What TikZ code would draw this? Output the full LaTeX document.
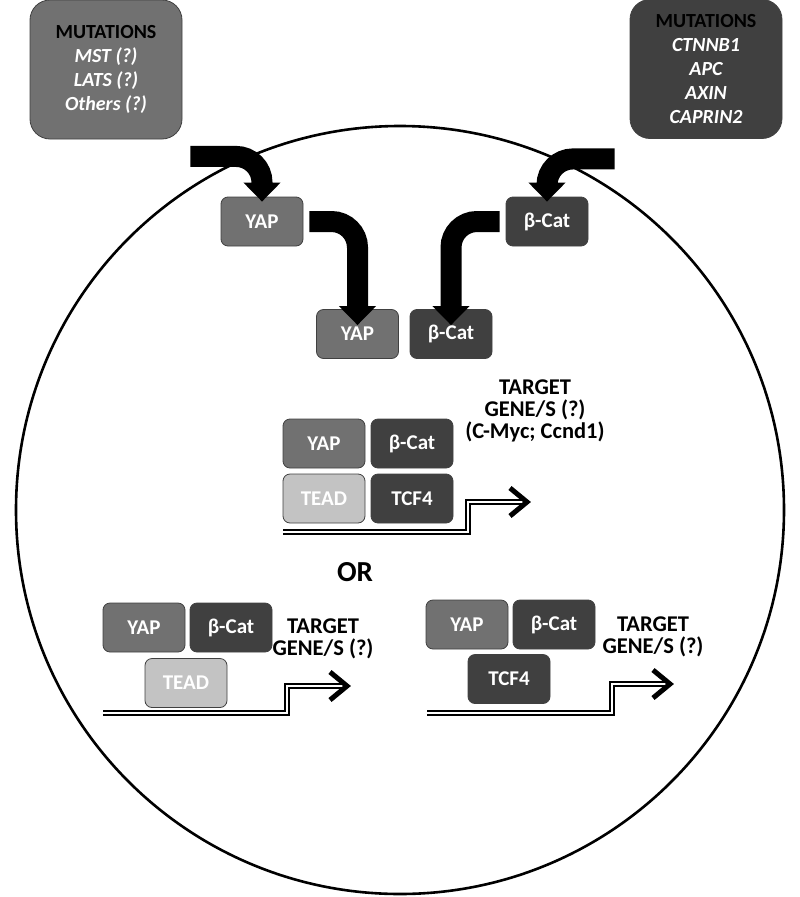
\documentclass[tikz,border=0pt]{standalone}
\usepackage{fontspec}
\setmainfont{Carlito}
\usetikzlibrary{arrows.meta}
\definecolor{midgray}{HTML}{717171}
\definecolor{deepgray}{HTML}{404040}
\definecolor{palegray}{HTML}{C3C3C3}

\tikzset{
  box/.style={draw=black!75, line width=0.8pt, rounded corners=7pt, minimum width=82pt, minimum height=49pt, text=white, font=\fontsize{21}{23}\selectfont\bfseries},
  yapbox/.style={box, fill=midgray},
  catbox/.style={box, fill=deepgray},
  teadbox/.style={box, fill=palegray},
  mutbox/.style={draw=black!75, line width=0.8pt, rounded corners=20pt, minimum width=152pt, minimum height=139pt, align=center, text=white, font=\fontsize{20}{24}\selectfont\bfseries\itshape},
  bigarrow/.style={line width=21pt, rounded corners=26pt, -{Triangle[length=19pt, width=36pt]}},
  dna/.style={line width=2.4pt, double=white, double distance=1.1pt},
  barb/.style={line width=5pt, miter limit=4},
  target/.style={align=center, font=\fontsize{22.5}{22}\selectfont\bfseries},
}

\begin{document}
\begin{tikzpicture}[x=1pt,y=1pt,yscale=-1,xscale=1]
\useasboundingbox (0,0) rectangle (800,897);

%Cell [id:cell]
\draw [line width=2.6pt] (400,510) circle (384);

%Mutation boxes
\node [mutbox, fill=midgray] (mutyap) at (106,69.5) {{\color{black}\upshape MUTATIONS}\\MST (?)\\LATS (?)\\Others (?)};
\node [mutbox, fill=deepgray] (mutcat) at (706,69) {{\color{black}\upshape MUTATIONS}\\CTNNB1\\APC\\AXIN\\CAPRIN2};

%Cytoplasm
\node [yapbox] (yap) at (262,221.5) {YAP};
\node [catbox] (cat) at (547,221.5) {β-Cat};
\node [yapbox] (yapb) at (357.5,334) {YAP};
\node [catbox] (catb) at (451,334) {β-Cat};

%Thick arrows
\draw [bigarrow] ([xshift=8pt,yshift=17pt]mutyap.south east) -| ([yshift=5pt]yap.north);
\draw [bigarrow] ([xshift=-15pt,yshift=20pt]mutcat.south west) -| ([yshift=5pt]cat.north);
\draw [bigarrow] ([xshift=6pt]yap.east) -| ([yshift=16pt]yapb.north);
\draw [bigarrow] ([xshift=-6pt]cat.west) -| ([yshift=16pt]catb.north);

%Complex 1
\node [yapbox] (yapc) at (324,443.5) {YAP};
\node [catbox] (catc) at (412,443.5) {β-Cat};
\node [teadbox] (teadc) at (324,498.5) {TEAD};
\node [catbox] (tcfc) at (412,498.5) {TCF4};
\coordinate (dnac) at (283,532);
\coordinate (tipc) at (527,502);
\draw [dna] (dnac) -- (468,532) -- (468,502) -- ([xshift=-4pt]tipc);
\draw [barb] ([xshift=-17pt,yshift=14pt]tipc) -- (tipc) -- ([xshift=-17pt,yshift=-14pt]tipc);
\node [target] (genec) at (535,411) {TARGET\\GENE/S (?)\\(C-Myc; Ccnd1)};

% Text Node
\node [font=\fontsize{29}{30}\selectfont\bfseries] (or) at (355,572) {OR};

%Complex 2
\node [yapbox] (yapl) at (144,627.5) {YAP};
\node [catbox] (catl) at (231,627.5) {β-Cat};
\node [teadbox] (teadl) at (186,683) {TEAD};
\coordinate (dnal) at (103,713);
\coordinate (tipl) at (347,686);
\draw [dna] (dnal) -- (287,713) -- (287,686) -- ([xshift=-4pt]tipl);
\draw [barb] ([xshift=-17pt,yshift=14pt]tipl) -- (tipl) -- ([xshift=-17pt,yshift=-14pt]tipl);
\node [target] (genel) at (323,639) {TARGET\\GENE/S (?)};

%Complex 3
\node [yapbox] (yapr) at (467,624.5) {YAP};
\node [catbox] (catr) at (554,624.5) {β-Cat};
\node [catbox] (tcfr) at (509,679) {TCF4};
\coordinate (dnar) at (427,713);
\coordinate (tipr) at (670,684);
\draw [dna] (dnar) -- (612,713) -- (612,684) -- ([xshift=-4pt]tipr);
\draw [barb] ([xshift=-17pt,yshift=14pt]tipr) -- (tipr) -- ([xshift=-17pt,yshift=-14pt]tipr);
\node [target] (gener) at (653,637) {TARGET\\GENE/S (?)};

\end{tikzpicture}
\end{document}
